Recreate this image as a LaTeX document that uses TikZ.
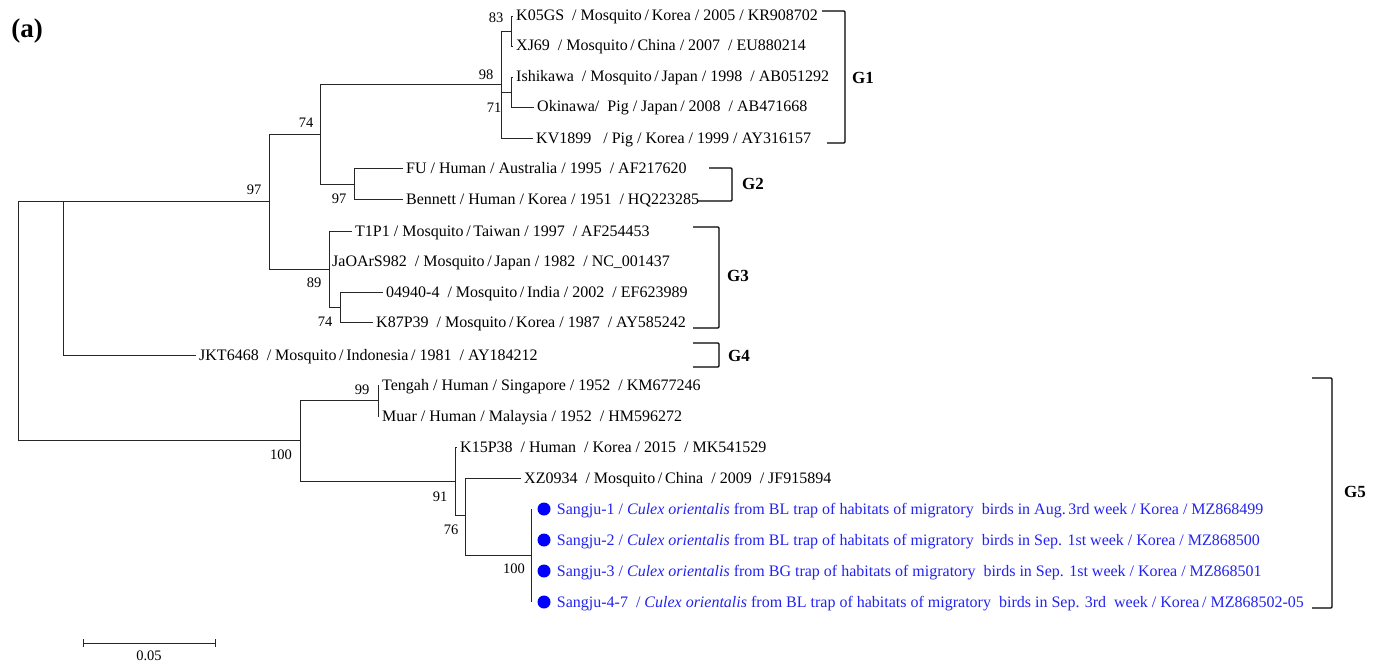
\documentclass[tikz,border=0pt]{standalone}
\usepackage{fontspec}
\setmainfont{Liberation Serif}
\usetikzlibrary{positioning}
\definecolor{sjblue}{RGB}{35,35,240}
\definecolor{dotblue}{RGB}{0,0,255}

\begin{document}
\begin{tikzpicture}[x=1pt,y=-1pt]

\tikzstyle{br} = [line width=0.9pt, draw=black!85]
\tikzstyle{tip} = [anchor=west, inner xsep=3pt, inner ysep=0pt, text height=10pt, text depth=0pt, font=\fontsize{16}{18}\selectfont]
\tikzstyle{bs} = [inner sep=0pt, font=\fontsize{14.5}{16}\selectfont]
\tikzstyle{grp} = [inner sep=0pt, font=\fontsize{17}{19}\selectfont\bfseries]
\tikzstyle{bk} = [line width=1.1pt, rounded corners=1pt]
\tikzstyle{dot} = [circle, fill=dotblue, inner sep=0pt, minimum size=13pt]
\tikzstyle{sj} = [tip, inner xsep=0pt, text=sjblue]

\useasboundingbox (0,0) rectangle (1383,666);

\node (tag) [font=\fontsize{27}{30}\selectfont\bfseries, inner sep=0pt] at (27,31) {(a)};

\coordinate (root) at (18,320);
\coordinate (nA) at (63,201);
\coordinate (n97) at (269,201);
\coordinate (n74) at (320,134);
\coordinate (nG1) at (501,84);
\coordinate (n83) at (511,31);
\coordinate (n71) at (511,92);
\coordinate (nG2) at (354,184);
\coordinate (nG3) at (329,269);
\coordinate (n74b) at (340,307);
\coordinate (nG5) at (300,440);
\coordinate (n99) at (378,400);
\coordinate (n91) at (455,481);
\coordinate (n76) at (465,515);
\coordinate (n100) at (531,555);

\node (k05gs) [tip] at (513,16) {K05GS\ \ / Mosquito\,/\,Korea / 2005\ / KR908702};
\node (xj69) [tip] at (513,46) {XJ69\ \ / Mosquito\,/\,China / 2007\ \ / EU880214};
\node (ishi) [tip] at (513,77) {Ishikawa\ \ / Mosquito\,/\,Japan / 1998\ \ / AB051292};
\node (okin) [tip] at (534,107) {Okinawa/\ \ Pig / Japan\,/ 2008\ \ / AB471668};
\node (kv1899) [tip] at (533,138) {KV1899\ \ \ / Pig / Korea / 1999 / AY316157};
\node (fu) [tip] at (403,168) {FU / Human / Australia / 1995\ \ / AF217620};
\node (benn) [tip] at (403,199) {Bennett / Human / Korea / 1951\ \ / HQ223285};
\node (t1p1) [tip] at (352,231) {T1P1 / Mosquito\,/\,Taiwan / 1997\ \ / AF254453};
\node (jaoa) [tip] at (329,261) {JaOArS982\ \ / Mosquito\,/\,Japan / 1982\ \ / NC\_001437};
\node (ind) [tip] at (383,292) {04940-4\ \ / Mosquito\,/\,India / 2002\ \ / EF623989};
\node (k87) [tip] at (373,322) {K87P39\ \ / Mosquito\,/\,Korea / 1987\ \ / AY585242};
\node (jkt) [tip] at (196,355) {JKT6468\ \ / Mosquito\,/\,Indonesia\,/ 1981\ \ / AY184212};
\node (teng) [tip] at (379,385) {Tengah / Human / Singapore / 1952\ \ / KM677246};
\node (muar) [tip] at (379,416) {Muar / Human / Malaysia / 1952\ \ / HM596272};
\node (k15) [tip] at (457,447) {K15P38\ \ / Human\ \ / Korea / 2015\ \ / MK541529};
\node (xz) [tip] at (521,478) {XZ0934\ \ / Mosquito\,/\,China\ \ / 2009\ \ / JF915894};

\node (sj1dot) [dot] at (544,509) {};
\node (sj2dot) [dot] at (544,540) {};
\node (sj3dot) [dot] at (544,571) {};
\node (sj4dot) [dot] at (544,602) {};
\node (sj1) [sj, right=6pt of sj1dot] {Sangju-1 / \textit{Culex orientalis} from BL trap of habitats of migratory\ \ birds in Aug.\,3rd week / Korea / MZ868499};
\node (sj2) [sj, right=6pt of sj2dot] {Sangju-2 / \textit{Culex orientalis} from BL trap of habitats of migratory\ \ birds in Sep. 1st week / Korea / MZ868500};
\node (sj3) [sj, right=6pt of sj3dot] {Sangju-3 / \textit{Culex orientalis} from BG trap of habitats of migratory\ \ birds in Sep. 1st week / Korea / MZ868501};
\node (sj4) [sj, right=6pt of sj4dot] {Sangju-4-7\ \ / \textit{Culex orientalis} from BL trap of habitats of migratory\ \ birds in Sep. 3rd\ \ week / Korea\,/ MZ868502-05};

\draw[br] (root) |- (nA) (root) |- (nG5);
\draw[br] (nA) |- (n97) (nA) |- (jkt.west);
\draw[br] (n97) |- (n74) (n97) |- (nG3);
\draw[br] (n74) |- (nG1) (n74) |- (nG2);
\draw[br] (nG1) |- (n83) (nG1) |- (n71) (nG1) |- (kv1899.west);
\draw[br] (n83) |- (k05gs.west) (n83) |- (xj69.west);
\draw[br] (n71) |- (ishi.west) (n71) |- (okin.west);
\draw[br] (nG2) |- (fu.west) (nG2) |- (benn.west);
\draw[br] (nG3) |- (t1p1.west) (nG3) |- (jaoa.west) (nG3) |- (n74b);
\draw[br] (n74b) |- (ind.west) (n74b) |- (k87.west);
\draw[br] (nG5) |- (n99) (nG5) |- (n91);
\draw[br] (n99) |- (teng.west) (n99) |- (muar.west);
\draw[br] (n91) |- (k15.west) (n91) |- (n76);
\draw[br] (n76) |- (xz.west) (n76) |- (n100);
\draw[br] (n100 |- sj1dot) -- (n100 |- sj4dot);

\node (b83) [bs] at (496,18) {83};
\node (b98) [bs] at (486,75) {98};
\node (b71) [bs] at (494,108) {71};
\node (b74) [bs] at (306,123) {74};
\node (b97) [bs] at (254,190) {97};
\node (b97b) [bs] at (339,199) {97};
\node (b89) [bs] at (314,283) {89};
\node (b74b) [bs] at (325,322) {74};
\node (b99) [bs] at (362,390) {99};
\node (b100) [bs] at (281,455) {100};
\node (b91) [bs] at (440,497) {91};
\node (b76) [bs] at (451,530) {76};
\node (b100b) [bs] at (514,569) {100};

\draw[bk] (822,11) -- (845,11) -- (845,143) -- (827,143);
\draw[bk] (709,168) -- (732,168) -- (732,201) -- (698,201);
\draw[bk] (693,227) -- (719,227) -- (719,328) -- (693,328);
\draw[bk] (693,343) -- (719,343) -- (719,367) -- (693,367);
\draw[bk] (1312,378) -- (1332,378) -- (1332,608) -- (1312,608);
\node (g1) [grp] at (863,78) {G1};
\node (g2) [grp] at (753,184) {G2};
\node (g3) [grp] at (738,276) {G3};
\node (g4) [grp] at (739,356) {G4};
\node (g5) [grp] at (1355,492) {G5};

\coordinate (sbl) at (83,643);
\coordinate (sbr) at (216,643);
\draw[br, |-|] (sbl) -- (sbr);
\node (sbt) [bs, below=8pt of sbl, xshift=66pt] {0.05};

\end{tikzpicture}
\end{document}
